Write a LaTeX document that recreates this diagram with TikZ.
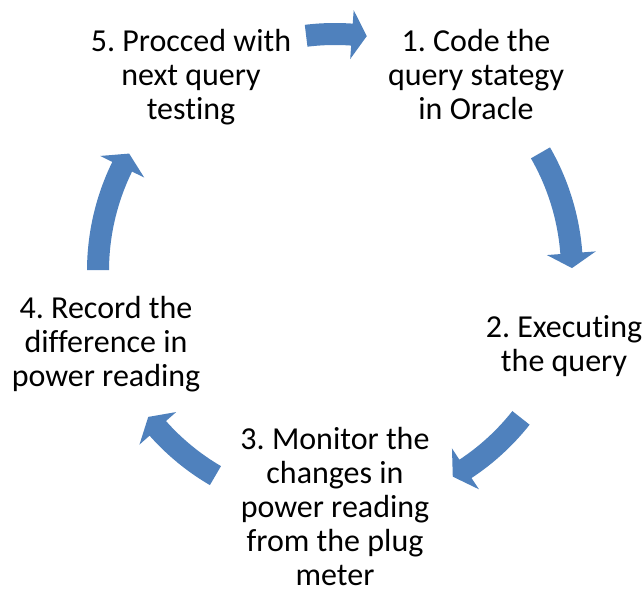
\documentclass[tikz,border=0pt]{standalone}
\usepackage{fontspec}
\setmainfont{Carlito}[Ligatures=NoCommon]
\frenchspacing
\definecolor{arrowblue}{HTML}{4F81BD}
\definecolor{txt}{HTML}{000000}
\newcommand\cycarrow[2]{%
  \pgfmathsetmacro\hb{#2+3.6}%
  \fill[arrowblue] (#1:248pt) arc[start angle=#1, end angle=\hb, radius=248pt]
    -- (\hb:261.5pt) -- (#2:237pt) -- (\hb:212.5pt) -- (\hb:226pt)
    arc[start angle=\hb, end angle=#1, radius=226pt] -- cycle;%
}
\begin{document}
\begin{tikzpicture}[x=1pt,y=1pt,
  steptext/.style={anchor=base, align=center, inner sep=0pt, text=txt,
    font=\fontsize{32}{34}\selectfont}]
\useasboundingbox (0,0) rectangle (644,592);
\node[steptext] (n1) at (476,472) {1. Code the\\query stategy\\in Oracle};
\node[steptext] (n2) at (564,221) {2. Executing\\the query};
\node[steptext] (n3) at (335,7) {3. Monitor the\\changes in\\power reading\\from the plug\\meter};
\node[steptext] (n4) at (106,206) {4. Record the\\difference in\\power reading};
\node[steptext] (n5) at (191,472) {5. Procced with\\next query\\testing};
\begin{scope}[shift={(335,321)}]
  \cycarrow{97}{82.3}
  \cycarrow{29.9}{0.7}
  \cycarrow{-38.3}{-60.2}
  \cycarrow{-120.3}{-142}
  \cycarrow{179.8}{150.3}
\end{scope}
\end{tikzpicture}
\end{document}
